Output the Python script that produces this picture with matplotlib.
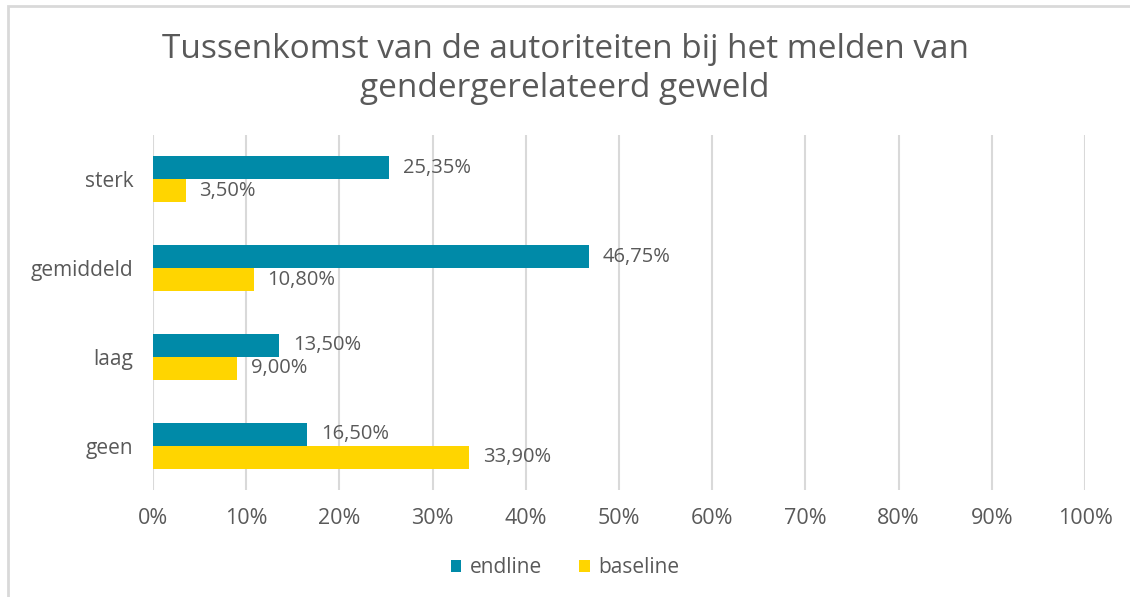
import numpy as np
import matplotlib.pyplot as plt
from matplotlib.patches import Rectangle

plt.rcParams['font.family'] = ['Open Sans', 'DejaVu Sans']

# data
categories = ['sterk', 'gemiddeld', 'laag', 'geen']
endline = [25.35, 46.75, 13.50, 16.50]
baseline = [3.50, 10.80, 9.00, 33.90]
xticks = [0, 10, 20, 30, 40, 50, 60, 70, 80, 90, 100]

colEnd = '#008AA8'
colBase = '#FFD500'
textCol = '#595959'

fig = plt.figure(figsize=(11.3, 5.97), dpi=100)
ax = fig.add_axes([0.1354, 0.179, 0.8248, 0.595])

y = np.arange(len(categories))
h = 0.26
ax.barh(y - h / 2, endline, height=h, color=colEnd, label='endline', zorder=3)
ax.barh(y + h / 2, baseline, height=h, color=colBase, label='baseline', zorder=3)

for yi, v in zip(y, endline):
    ax.annotate(f'{v:.2f}%'.replace('.', ','), (v, yi - h / 2),
                xytext=(10, 0), textcoords='offset points', va='center',
                ha='left', fontsize=14.5, color=textCol)
for yi, v in zip(y, baseline):
    ax.annotate(f'{v:.2f}%'.replace('.', ','), (v, yi + h / 2),
                xytext=(10, 0), textcoords='offset points', va='center',
                ha='left', fontsize=14.5, color=textCol)

ax.set_xlim(0, 100)
ax.set_ylim(len(categories) - 0.5, -0.5)
ax.set_xticks(xticks)
ax.set_xticklabels([f'{t}%' for t in xticks])
ax.set_yticks(y)
ax.set_yticklabels(categories)
ax.tick_params(axis='y', length=0, labelsize=15, colors=textCol, pad=14)
ax.tick_params(axis='x', length=0, labelsize=15.5, colors=textCol, pad=13)
ax.xaxis.grid(True, color='#D9D9D9', linewidth=1.5, zorder=0)
for s in ax.spines.values():
    s.set_visible(False)

fig.suptitle('Tussenkomst van de autoriteiten bij het melden van\ngendergerelateerd geweld',
             y=0.945, fontsize=24, color=textCol, linespacing=1.25)

fig.legend(loc='lower center', bbox_to_anchor=(0.5, 0.0), ncol=2,
           frameon=False, fontsize=15, labelcolor=textCol,
           handlelength=0.5, handleheight=0.5, columnspacing=1.8,
           handletextpad=0.4)

fig.patches.append(Rectangle((0.007, -0.05), 1.1, 1.04, transform=fig.transFigure,
                             fill=False, edgecolor='#D9D9D9', linewidth=2))

fig.savefig('out.png', dpi=100)
